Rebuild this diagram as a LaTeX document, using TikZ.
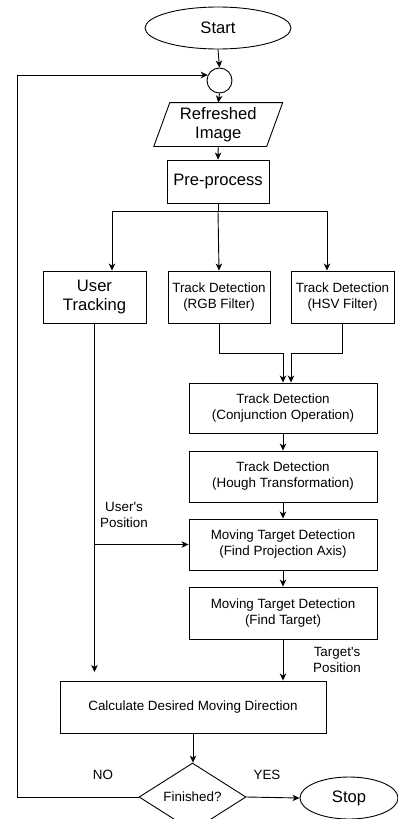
\documentclass[tikz,border=0pt]{standalone}
\usepackage{fontspec}
\setmainfont{Liberation Sans}[Ligatures=TeXOff]
\usetikzlibrary{shapes.geometric,arrows.meta}
\begin{document}
\begin{tikzpicture}[x=1pt,y=-1pt,
  every path/.style={line width=0.9pt},
  arr/.style={-{Stealth[length=7pt,width=6.5pt,inset=2pt]}},
  big/.style={font=\fontsize{16.6}{19.5}\selectfont},
  small/.style={font=\fontsize{13.4}{16}\selectfont},
  box/.style={draw,rectangle,align=center,inner sep=0pt,small},
  oval/.style={draw,ellipse,inner sep=0pt,big},
  lbl/.style={align=center,inner sep=0pt,small}]
\useasboundingbox (0,0) rectangle (398,819);
\node[oval,minimum width=146pt,minimum height=42pt] (start) at (218,28) {Start};
\node[draw,circle,inner sep=0pt,minimum size=25pt] (circ) at (219.5,80.5) {};
\node[align=center,inner sep=0pt,big,minimum width=112pt,minimum height=43pt] (img) at (218.25,124.5) {Refreshed\\Image};
\draw ([xshift=8pt]img.north west) -- ([xshift=8pt]img.north east) -- ([xshift=-8pt]img.south east) -- ([xshift=-8pt]img.south west) -- cycle;
\node[box,big,minimum width=102pt,minimum height=43pt] (pre) at (218,181.5) {Pre-process};
\node[box,big,minimum width=103pt,minimum height=52pt] (user) at (94.5,297) {User\\Tracking};
\node[box,minimum width=102pt,minimum height=52pt] (rgb) at (219,297) {Track Detection\\(RGB Filter)};
\node[box,minimum width=103pt,minimum height=52pt] (hsv) at (342.5,297) {Track Detection\\(HSV Filter)};
\node[box,minimum width=188pt,minimum height=50pt] (conj) at (283,408) {Track Detection\\(Conjunction Operation)};
\node[box,minimum width=188pt,minimum height=51pt] (hough) at (283,476.5) {Track Detection\\(Hough Transformation)};
\node[box,minimum width=188pt,minimum height=51pt] (mtda) at (283,544.5) {Moving Target Detection\\(Find Projection Axis)};
\node[box,minimum width=188pt,minimum height=52pt] (mtdb) at (283,613) {Moving Target Detection\\(Find Target)};
\node[box,minimum width=266pt,minimum height=52pt] (calc) at (193,707) {Calculate Desired Moving Direction};
\node[draw,diamond,inner sep=0pt,small,minimum width=107pt,minimum height=42pt] (dia) at (192.5,797) {Finished?};
\node[oval,minimum width=98pt,minimum height=42pt] (stop) at (349,798) {Stop};
\node[lbl] (upos) at (124,515) {User's\\Position};
\node[lbl] (tpos) at (337,660) {Target's\\Position};
\node[lbl] (no) at (103,775) {NO};
\node[lbl] (yes) at (267,775) {YES};
\coordinate (sp) at (218,211);
\coordinate (loopx) at (17,0);
\coordinate (ue) at (94.5,672);
\draw[arr] (start.south) -- (circ.north);
\draw[arr] (circ.south) -- (img.north);
\draw[arr] (img.south) -- (pre.north);
\draw (pre.south) -- (sp);
\draw[arr] (sp) -| ([xshift=17.5pt]user.north);
\draw[arr] (sp) -| ([xshift=-15.5pt]hsv.north);
\draw[arr] (sp) -- (rgb.north);
\draw[arr] (rgb.south) -- ++(0,30) -| (conj.north);
\draw[arr] (hsv.south) -- ++(0,30) -| ([xshift=8pt]conj.north);
\draw[arr] (conj.south) -- (hough.north);
\draw[arr] (hough.south) -- (mtda.north);
\draw[arr] (mtda.south) -- (mtdb.north);
\draw[arr] (mtdb.south) -- (mtdb.south |- calc.north);
\draw[arr] (user.south) -- (ue);
\draw[arr] (user.south |- mtda.west) -- (mtda.west);
\draw[arr] (calc.south) -- (calc.south |- dia.north);
\draw[arr] (dia.east) -- (stop.west);
\draw[arr] (dia.west) -- (dia.west -| loopx) |- (circ.155);
\end{tikzpicture}
\end{document}
